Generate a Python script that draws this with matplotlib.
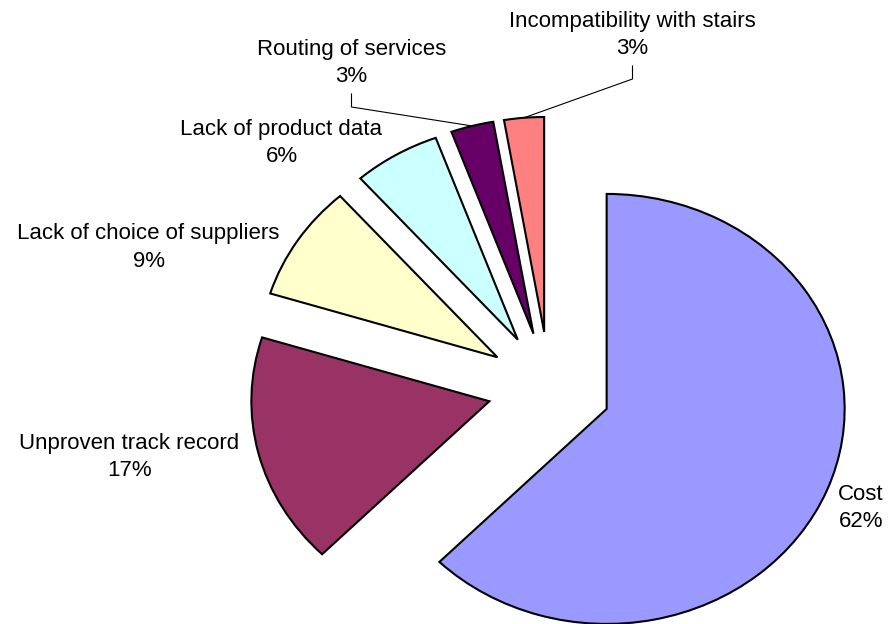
import matplotlib
matplotlib.use("Agg")
from matplotlib import pyplot as plt
import numpy as np

# Datos del grafico
categorias = ["Cost", "Unproven track record", "Lack of choice of suppliers",
              "Lack of product data", "Routing of services",
              "Incompatibility with stairs"]
porcentajes = [62.4, 17.4, 8.7, 5.9, 2.9, 2.7]
colores = ["#9999FF", "#993366", "#FFFFCC", "#CCFFFF", "#660066", "#FF8080"]

# posicion de cada etiqueta (centro del texto, en pixeles de la imagen)
pos_etiquetas = [(861, 508), (129.5, 457), (148.5, 247.5),
                 (281.5, 143), (351.5, 63), (632.5, 35)]
con_linea = [False, False, False, False, True, True]

W, H = 890, 624
cx, cy = 549.4, 387.7   # centro del pastel en pixeles
rx, ry = 238, 215       # radio horizontal / vertical en pixeles


def px(x, y):
    return (x - cx) / rx, (cy - y) / ry


fig = plt.figure(figsize=(W / 100, H / 100), dpi=100)
ax = fig.add_axes([0, 0, 1, 1])
wedges, _ = ax.pie(porcentajes, colors=colores, startangle=90,
                   counterclock=False, explode=[0.26] * len(porcentajes),
                   wedgeprops=dict(edgecolor="black", linewidth=1.5))
ax.set_aspect("auto")
ax.set_xlim(-cx / rx, (W - cx) / rx)
ax.set_ylim((cy - H) / ry, cy / ry)
ax.axis("off")

for nombre, valor, (x, y), linea, w in zip(categorias, porcentajes,
                                           pos_etiquetas, con_linea, wedges):
    ax.text(*px(x, y), f"{nombre}\n{round(valor)}%", ha="center", va="center",
            fontsize=16, linespacing=1.4, family="Liberation Sans")
    if linea:
        ang = np.deg2rad((w.theta1 + w.theta2) / 2)
        fin = (w.center[0] + w.r * np.cos(ang), w.center[1] + w.r * np.sin(ang))
        p1 = px(x, y + 31)
        p2 = px(x, y + 44)
        ax.plot([p1[0], p2[0], fin[0]], [p1[1], p2[1], fin[1]],
                color="black", linewidth=0.8)

plt.savefig("out.png", dpi=100)
